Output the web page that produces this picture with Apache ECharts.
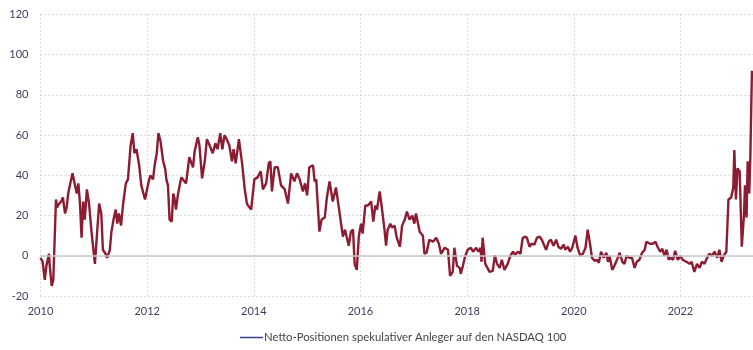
<!DOCTYPE html>
<html>
<head>
<meta charset="utf-8">
<script src="https://cdn.jsdelivr.net/npm/echarts@6/dist/echarts.min.js"></script>
<style>
html,body{margin:0;padding:0;background:#fff;}
#c{width:753px;height:350px;}
</style>
</head>
<body>
<div id="c"></div>
<script>
// Dates (decimal years)
var dates = [
2010.00,2010.04,2010.08,2010.11,2010.16,2010.17,2010.21,2010.24,2010.29,2010.31,
2010.35,2010.39,2010.42,2010.46,2010.49,2010.52,2010.55,2010.60,2010.64,2010.68,
2010.71,2010.74,2010.77,2010.80,2010.83,2010.87,2010.91,2010.96,2011.02,2011.06,
2011.10,2011.14,2011.17,2011.22,2011.25,2011.30,2011.33,2011.37,2011.41,2011.44,
2011.47,2011.51,2011.55,2011.60,2011.64,2011.69,2011.73,2011.76,2011.80,2011.85,
2011.89,2011.96,2012.02,2012.06,2012.11,2012.14,2012.18,2012.21,2012.25,2012.30,
2012.34,2012.36,2012.39,2012.42,2012.46,2012.49,2012.51,2012.54,2012.58,2012.64,
2012.73,2012.79,2012.86,2012.89,2012.95,2012.98,2013.03,2013.08,2013.12,2013.17,
2013.23,2013.28,2013.32,2013.37,2013.41,2013.45,2013.49,2013.54,2013.59,2013.62,
2013.66,2013.72,2013.78,2013.83,2013.87,2013.89,2013.95,2014.01,2014.07,2014.13,
2014.17,2014.23,2014.28,2014.31,2014.34,2014.39,2014.45,2014.51,2014.58,2014.64,
2014.70,2014.76,2014.81,2014.86,2014.92,2014.96,2015.00,2015.04,2015.11,2015.14,
2015.17,2015.23,2015.27,2015.33,2015.37,2015.42,2015.48,2015.54,2015.61,2015.67,
2015.71,2015.78,2015.82,2015.86,2015.89,2015.93,2015.97,2016.01,2016.04,2016.09,
2016.14,2016.20,2016.24,2016.28,2016.31,2016.36,2016.40,2016.45,2016.48,2016.51,
2016.56,2016.59,2016.64,2016.68,2016.74,2016.78,2016.83,2016.87,2016.92,2016.97,
2017.01,2017.04,2017.11,2017.17,2017.20,2017.24,2017.29,2017.36,2017.42,2017.47,
2017.51,2017.58,2017.64,2017.68,2017.73,2017.76,2017.81,2017.86,2017.88,2017.92,
2017.96,2018.01,2018.07,2018.11,2018.17,2018.21,2018.25,2018.27,2018.29,2018.34,
2018.37,2018.42,2018.48,2018.52,2018.56,2018.61,2018.65,2018.70,2018.76,2018.81,
2018.86,2018.90,2018.95,2019.00,2019.04,2019.08,2019.12,2019.17,2019.21,2019.26,
2019.31,2019.36,2019.40,2019.44,2019.48,2019.53,2019.57,2019.62,2019.67,2019.71,
2019.76,2019.81,2019.84,2019.89,2019.93,2019.97,2020.03,2020.07,2020.12,2020.17,
2020.22,2020.26,2020.31,2020.34,2020.39,2020.43,2020.47,2020.51,2020.56,2020.61,
2020.64,2020.67,2020.72,2020.76,2020.81,2020.86,2020.91,2020.95,2020.99,2021.04,
2021.09,2021.14,2021.18,2021.23,2021.28,2021.33,2021.36,2021.39,2021.43,2021.48,
2021.53,2021.57,2021.62,2021.66,2021.70,2021.74,2021.78,2021.81,2021.86,2021.90,
2021.95,2022.00,2022.04,2022.11,2022.17,2022.21,2022.26,2022.31,2022.36,2022.40,
2022.45,2022.50,2022.54,2022.59,2022.64,2022.69,2022.73,2022.77,2022.81,2022.86,
2022.90,2022.95,2022.99,2023.01,2023.04,2023.07,2023.11,2023.15,2023.19,2023.21,
2023.24,2023.26,2023.29,2023.31,2023.34
];
// Net positions
var values = [
-1,-3,-12,-5,1,-4,-15,-12,28,24,
26,27,29,21,24,31,35,41,36,31,
36,26,9,27,18,33,26,11,-4,11,
26,21,3,1,-1,3,12,18,23,16,
21,15,26,36,38,55,61,51,53,45,
35,28,36,40,38,45,51,61,57,47,
43,38,35,18,17,31,29,23,31,39,
36,49,44,52,59,55,38.5,47,58,55,
51,56,53,61,53,60,58,55,47,53,
46,58,46,33,26,25,23,38,39,42,
33,36,46,47,32,44,44,35,33,26,
41,37,41,38,32,36,30,44,45,37,
38,12,18,19,29,37,27,34,21,9.5,
13,5,12,13,-4,-7,10,16,11,25,
25,27,17,25,23,32,24,13,5,13,
16,14,15,9,4.5,15,18,22,18,20,
16,21,12,10,1,1.5,8,7,9,6,
1,4,3,-10,-8,4,-5,-6,-9,-5,
-0.5,3,4,2,4,2,4,-3,9,-4,
-5.5,-8,-7.5,0.3,-4,-6,-2,-7,-4,0,
2,0.5,2,1,8.7,9.5,9,4.5,6,5.5,
9,9.5,8,5.5,3,7,8,5,8,4.5,
3.5,5.5,3,4.5,2,4,10,4,0,1,
4,13,5,-1,-2.5,-2,-3.5,2,-1,1.5,
-3,0,-7,-5,-2,1.5,-3,-4,0,-1,
-1,-6,-3,-2,1.5,3,7,7,6,6,
7,4.5,2,3.5,0,3,-2,-1,-2,2.5,
-2,0,-2,-3,-4,-3,-8,-4,-6,-3,
-4,-1,1,0,2,-1,3,-3,0,2,
28,29,34,52.6,28,43.5,42,4.5,20,35,
19,47,31,49,92
];
var yTicks = [-20, 0, 20, 40, 60, 80, 100, 120];
var xTickYears = [2010, 2012, 2014, 2016, 2018, 2020, 2022];
var seriesName = 'Netto-Positionen spekulativer Anleger auf den NASDAQ 100';

var seriesData = dates.map(function (d, i) { return [d, values[i]]; });

var chart = echarts.init(document.getElementById('c'), null, {renderer: 'canvas'});
var labelColor = '#3d3f5e';
var gridColor = '#cfcfcf';
chart.setOption({
  animation: false,
  backgroundColor: '#ffffff',
  textStyle: {fontFamily: 'Lato, "Open Sans", sans-serif'},
  grid: {left: 40.5, right: 0, top: 14.5, bottom: 54, containLabel: false},
  legend: {
    bottom: 2,
    left: 235,
    data: [{name: seriesName, icon: 'rect', itemStyle: {color: '#3b3f86'}}],
    itemWidth: 23,
    itemHeight: 1.5,
    textStyle: {color: '#444', fontSize: 11.3, fontFamily: 'Lato, sans-serif', padding: [0, 0, 0, -4]}
  },
  xAxis: {
    type: 'value',
    min: 2010,
    max: 2023.36,
    interval: 2,
    axisLine: {show: false},
    axisTick: {show: false},
    axisLabel: {
      color: labelColor, fontSize: 11, margin: 10,
      showMaxLabel: false,
      formatter: function (v) { return xTickYears.indexOf(Math.round(v)) >= 0 && Math.abs(v - Math.round(v)) < 1e-6 ? String(Math.round(v)) : ''; }
    },
    splitLine: {show: true, lineStyle: {color: gridColor, type: [1.5, 2.5], width: 1}}
  },
  yAxis: {
    type: 'value',
    min: yTicks[0],
    max: yTicks[yTicks.length - 1],
    interval: 20,
    axisLine: {show: false},
    axisTick: {show: false},
    axisLabel: {color: labelColor, fontSize: 11, margin: 12},
    splitLine: {show: true, lineStyle: {color: gridColor, type: [1.5, 2.5], width: 1}}
  },
  series: [{
    name: seriesName,
    type: 'line',
    data: seriesData,
    showSymbol: false,
    symbol: 'none',
    lineStyle: {color: '#8c1c32', width: 2.4},
    itemStyle: {color: '#8c1c32'},
    markLine: {
      silent: true,
      symbol: 'none',
      label: {show: false},
      lineStyle: {color: '#c8c8c8', type: 'solid', width: 1.5},
      data: [{yAxis: 0}]
    },
    z: 3
  }]
});
</script>
</body>
</html>
